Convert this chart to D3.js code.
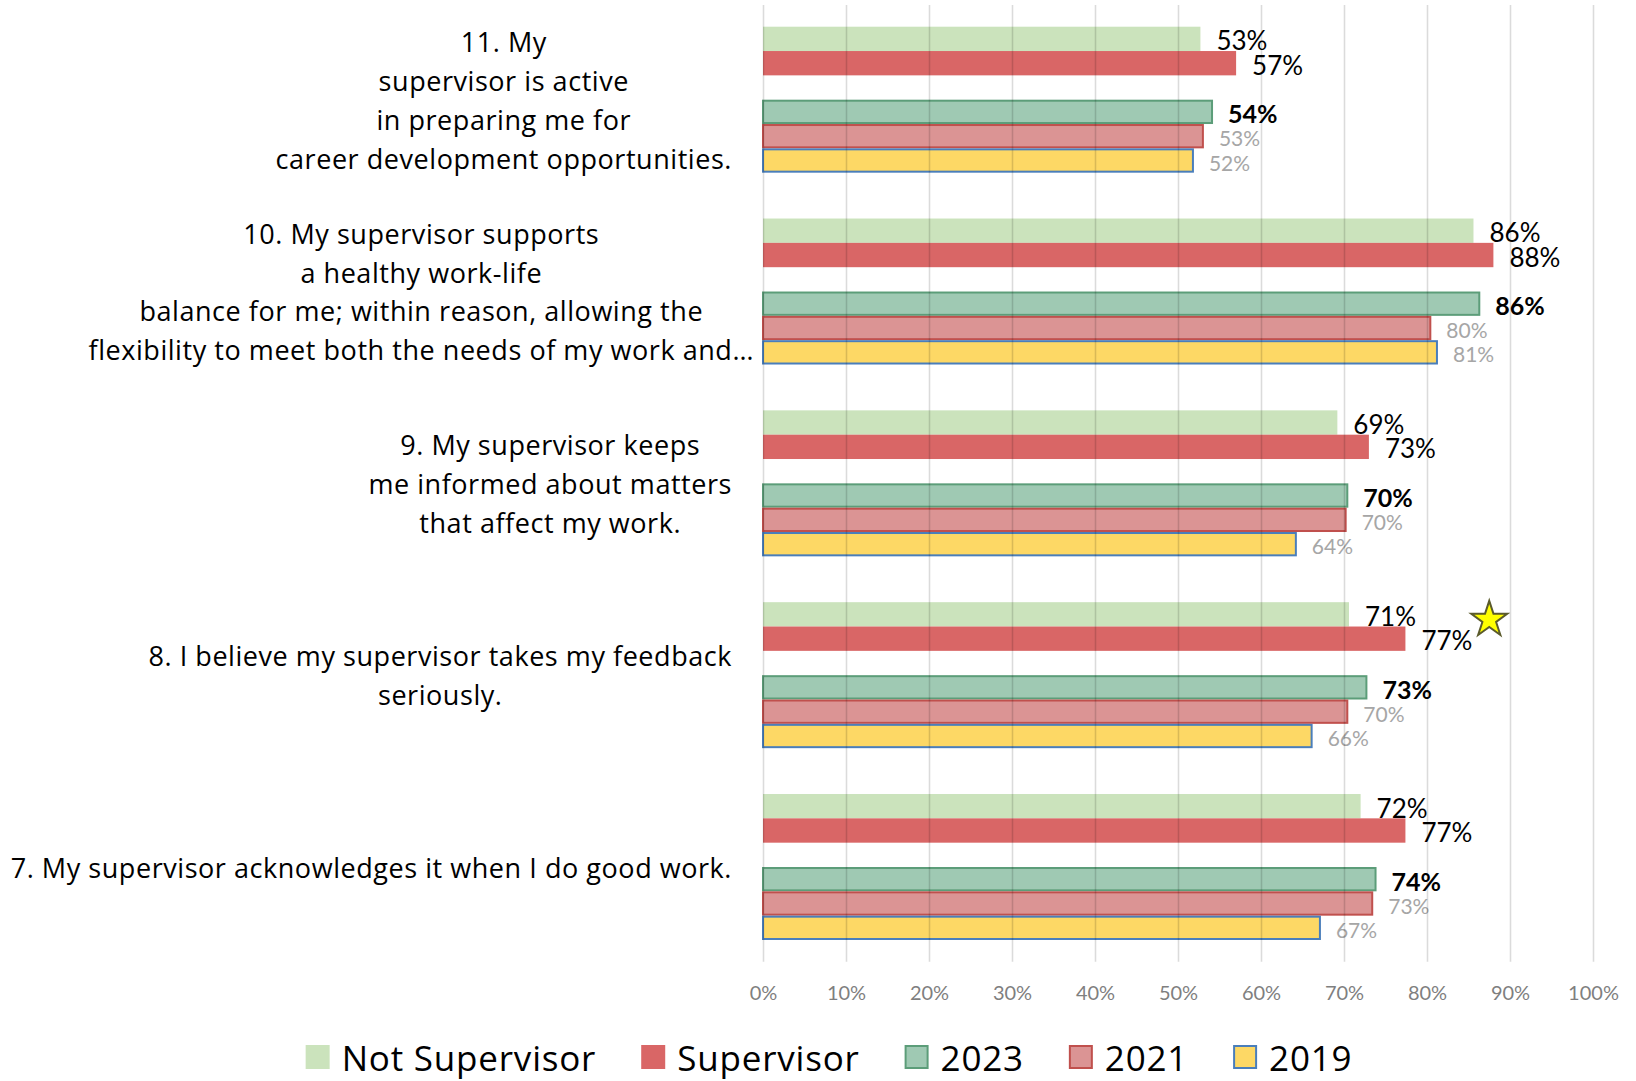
<!DOCTYPE html>
<html>
<head>
<meta charset="utf-8">
<script src="https://cdn.jsdelivr.net/npm/d3@7"></script>
<style>
  body { margin: 0; background: #fff; }
  text { font-family: Lato, "Open Sans", sans-serif; }
  .qlabel text, .legend text { font-family: "Open Sans", Lato, sans-serif; }
</style>
</head>
<body>
<div id="chart"></div>
<script>
// questions, top to bottom
const questions = ["q11", "q10", "q9", "q8", "q7"];
const questionLines = [
  ["11. My", "supervisor is active", "in preparing me for", "career development opportunities."],
  ["10. My supervisor supports", "a healthy work-life", "balance for me; within reason, allowing the", "flexibility to meet both the needs of my work and…"],
  ["9. My supervisor keeps", "me informed about matters", "that affect my work."],
  ["8. I believe my supervisor takes my feedback", "seriously."],
  ["7. My supervisor acknowledges it when I do good work."]
];

// percent values
const notSupervisor = [52.7, 85.6, 69.2, 70.6, 72.0];
const supervisor = [57.0, 88.0, 73.0, 77.4, 77.4];
const pct2023 = [54.1, 86.3, 70.4, 72.7, 73.8];
const pct2021 = [53.0, 80.4, 70.2, 70.4, 73.4];
const pct2019 = [51.8, 81.2, 64.2, 66.1, 67.1];

const seriesNames = ["Not Supervisor", "Supervisor", "2023", "2021", "2019"];
const xTicks = [0, 10, 20, 30, 40, 50, 60, 70, 80, 90, 100];

// star annotation on question 8 (x in %)
const starQuestion = "q8";
const starValue = 87.5;

const width = 1636, height = 1081;

const svg = d3.select("#chart").append("svg")
  .attr("width", width)
  .attr("height", height);

const x = d3.scaleLinear().domain([0, 100]).range([763, 1593]);

const yGroup = d3.scaleBand()
  .domain(questions)
  .range([26.7, 940])
  .paddingInner(0.239)
  .paddingOuter(0);

// slot "gap" stays empty between the two pairs
const ySlot = d3.scaleBand()
  .domain(["ns", "sup", "gap", "y2023", "y2021", "y2019"])
  .range([0, yGroup.bandwidth()]);

const series = [
  { key: "ns", name: seriesNames[0], values: notSupervisor, fill: "#cbe3bc", stroke: "none", color: "#000", weight: "normal", size: 26 },
  { key: "sup", name: seriesNames[1], values: supervisor, fill: "#d96666", stroke: "none", color: "#000", weight: "normal", size: 26 },
  { key: "y2023", name: seriesNames[2], values: pct2023, fill: "#9fc9b3", stroke: "#5c9d79", color: "#000", weight: "bold", size: 25 },
  { key: "y2021", name: seriesNames[3], values: pct2021, fill: "#db9494", stroke: "#c0504d", color: "#a6a6a6", weight: "normal", size: 21 },
  { key: "y2019", name: seriesNames[4], values: pct2019, fill: "#fdd865", stroke: "#4a7ebb", color: "#a6a6a6", weight: "normal", size: 21 }
];

// bars
series.forEach(s => {
  const g = svg.append("g").attr("class", "series " + s.key);
  const rows = questions.map((q, i) => ({ q: q, v: s.values[i] }));

  g.selectAll("rect")
    .data(rows)
    .enter()
    .append("rect")
    .attr("x", x(0))
    .attr("y", d => yGroup(d.q) + ySlot(s.key) + (s.stroke === "none" ? 0 : 1))
    .attr("width", d => x(d.v) - x(0))
    .attr("height", ySlot.bandwidth() - (s.stroke === "none" ? 0 : 2))
    .attr("fill", s.fill)
    .attr("stroke", s.stroke)
    .attr("stroke-width", 2);

  g.selectAll("text")
    .data(rows)
    .enter()
    .append("text")
    .attr("x", d => x(d.v) + 16)
    .attr("y", d => yGroup(d.q) + ySlot(s.key) + ySlot.bandwidth() / 2 + 1.5)
    .attr("dominant-baseline", "central")
    .attr("font-size", s.size)
    .attr("font-weight", s.weight)
    .attr("fill", s.color)
    .text(d => Math.round(d.v) + "%");
});

// grid lines + tick labels, drawn over the bars
const gridBottom = 961.7;
const xAxis = d3.axisBottom(x)
  .tickValues(xTicks)
  .tickFormat(d => d + "%")
  .tickSize(-(gridBottom - 5))
  .tickPadding(24);

const axisG = svg.append("g")
  .attr("transform", "translate(0," + gridBottom + ")")
  .call(xAxis);
axisG.select(".domain").remove();
axisG.selectAll(".tick line")
  .attr("stroke", "#000")
  .attr("stroke-opacity", 0.14)
  .attr("stroke-width", 1.6);
axisG.selectAll(".tick text")
  .attr("font-family", "Lato, 'Open Sans', sans-serif")
  .attr("font-size", 20)
  .attr("fill", "#7f7f7f");

// category labels, lines centred within a block that ends near the axis
const labelRight = 732;
const lineHeight = 38.9;
questions.forEach((q, i) => {
  const lines = questionLines[i];
  const g = svg.append("g").attr("class", "qlabel");
  const cy = yGroup(q) + yGroup.bandwidth() / 2;
  const texts = g.selectAll("text")
    .data(lines)
    .enter()
    .append("text")
    .attr("text-anchor", "middle")
    .attr("dominant-baseline", "central")
    .attr("font-size", 27)
    .attr("letter-spacing", 0.55)
    .attr("fill", "#000")
    .attr("y", (d, j) => cy + (j - (lines.length - 1) / 2) * lineHeight)
    .text(d => d);
  let blockW = 0;
  texts.each(function (d) {
    let w = this.getComputedTextLength();
    // truncated line is allowed to run past the block
    if (d.endsWith("…")) w -= 44;
    blockW = Math.max(blockW, w);
  });
  texts.attr("x", labelRight - blockW / 2);
});

// star marker
const star = d3.symbol().type(d3.symbolStar).size(400);
svg.append("path")
  .attr("d", star())
  .attr("transform", "translate(" + x(starValue) + "," + (yGroup(starQuestion) + ySlot("ns") + ySlot.bandwidth() * 0.72) + ")")
  .attr("fill", "#ffff00")
  .attr("stroke", "#5b5b2c")
  .attr("stroke-width", 2);

// legend
const legend = svg.append("g").attr("class", "legend");
const legendY = 1057;
const sq = 24, sqGap = 12, itemGap = 45;
let lx = 0;
series.forEach(s => {
  const item = legend.append("g").attr("transform", "translate(" + lx + ",0)");
  item.append("rect")
    .attr("x", s.stroke === "none" ? 0 : 1)
    .attr("y", legendY - sq / 2 + (s.stroke === "none" ? 0 : 1))
    .attr("width", sq - (s.stroke === "none" ? 0 : 2))
    .attr("height", sq - (s.stroke === "none" ? 0 : 2))
    .attr("fill", s.fill)
    .attr("stroke", s.stroke)
    .attr("stroke-width", 2);
  const t = item.append("text")
    .attr("x", sq + sqGap)
    .attr("y", legendY)
    .attr("dominant-baseline", "central")
    .attr("font-size", 35)
    .attr("letter-spacing", 0.8)
    .attr("fill", "#000")
    .text(s.name);
  lx += sq + sqGap + t.node().getComputedTextLength() + itemGap;
});
const legendW = lx - itemGap;
legend.attr("transform", "translate(" + (829 - legendW / 2) + ",0)");
</script>
</body>
</html>
